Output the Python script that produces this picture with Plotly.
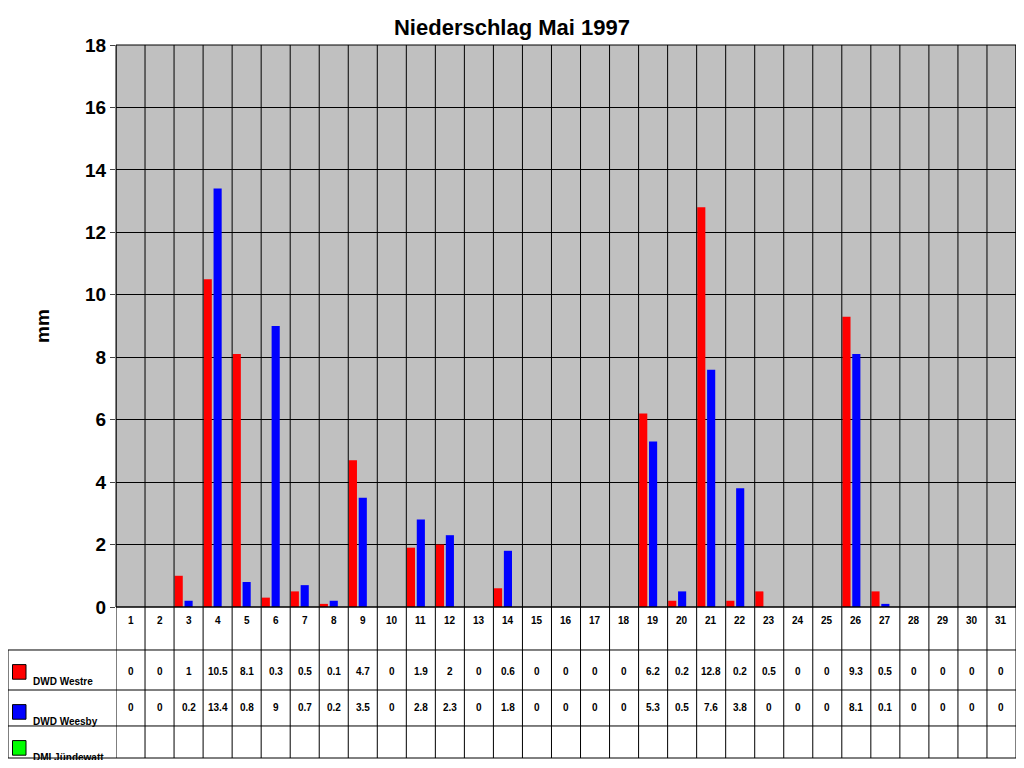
import plotly.graph_objects as go

days = list(range(1, 32))
westre = [0, 0, 1, 10.5, 8.1, 0.3, 0.5, 0.1, 4.7, 0, 1.9, 2, 0, 0.6, 0, 0, 0, 0, 6.2, 0.2, 12.8, 0.2, 0.5, 0, 0, 9.3, 0.5, 0, 0, 0, 0]
weesby = [0, 0, 0.2, 13.4, 0.8, 9, 0.7, 0.2, 3.5, 0, 2.8, 2.3, 0, 1.8, 0, 0, 0, 0, 5.3, 0.5, 7.6, 3.8, 0, 0, 0, 8.1, 0.1, 0, 0, 0, 0]
series_names = ["DWD Westre", "DWD Weesby", "DMI Jündewatt"]
series_colors = ["#ff0000", "#0000ff", "#00ff00"]

fig = go.Figure()
fig.add_trace(go.Bar(x=days, y=westre, name=series_names[0], marker_color=series_colors[0],
                     width=0.28, offset=-0.48, marker_line_width=0))
fig.add_trace(go.Bar(x=days, y=weesby, name=series_names[1], marker_color=series_colors[1],
                     width=0.28, offset=-0.14, marker_line_width=0))

# row boundaries of the data table (paper coords)
rows = [0, -0.0765, -0.1477, -0.2117, -0.2687]
left = -0.12
shapes = []
for k in range(32):
    shapes.append(dict(type="line", xref="x", yref="paper", x0=k + 0.5, x1=k + 0.5,
                       y0=rows[-1], y1=1, line=dict(color="black", width=1)))
for i, r in enumerate(rows):
    shapes.append(dict(type="line", xref="paper", yref="paper", x0=left if i > 0 else 0, x1=1,
                       y0=r, y1=r, line=dict(color="black", width=1)))
shapes.append(dict(type="line", xref="paper", yref="paper", x0=left, x1=left,
                   y0=rows[1], y1=rows[-1], line=dict(color="black", width=1)))
shapes.append(dict(type="rect", xref="paper", yref="paper", x0=0, x1=1, y0=0, y1=1,
                   line=dict(color="black", width=1)))

ann = []
f = dict(family="Arial", size=10, color="black")
for d, a, b in zip(days, westre, weesby):
    ann.append(dict(x=d, y=(rows[0] + rows[1]) / 2, xref="x", yref="paper", text="<b>%d</b>" % d,
                    showarrow=False, font=f))
    ann.append(dict(x=d, y=rows[2] + 0.02, xref="x", yref="paper", text="<b>%g</b>" % a,
                    showarrow=False, font=f))
    ann.append(dict(x=d, y=rows[3] + 0.02, xref="x", yref="paper", text="<b>%g</b>" % b,
                    showarrow=False, font=f))
for i, (n, c) in enumerate(zip(series_names, series_colors)):
    top = rows[i + 1]
    shapes.append(dict(type="rect", xref="paper", yref="paper", x0=-0.115, x1=-0.1, y0=top - 0.026,
                       y1=top - 0.052, fillcolor=c, line=dict(color="black", width=1)))
    ann.append(dict(x=-0.095, y=top - 0.056, xref="paper", yref="paper", text="<b>%s</b>" % n,
                    showarrow=False, xanchor="left", yanchor="middle", font=f))

fig.update_layout(
    width=1008, height=752, margin=dict(l=108, r=0, t=37, b=153),
    paper_bgcolor="white", plot_bgcolor="#c0c0c0", showlegend=False,
    title=dict(text="<b>Niederschlag Mai 1997</b>", x=0.5, y=1 - 19 / 752, xanchor="center",
               yanchor="middle", font=dict(family="Arial", size=22, color="black")),
    xaxis=dict(range=[0.5, 31.5], showticklabels=False, showgrid=False, zeroline=False),
    yaxis=dict(range=[0, 18], dtick=2, showgrid=True, gridcolor="black", gridwidth=1,
               zeroline=False, tickfont=dict(family="Arial", size=19, color="black"),
               tickprefix="<b>", ticksuffix="</b>", ticks="outside", ticklen=5,
               title=dict(text="<b>mm</b>", font=dict(family="Arial", size=19, color="black"), standoff=30)),
    shapes=shapes, annotations=ann,
)
fig.write_html("out.html")
